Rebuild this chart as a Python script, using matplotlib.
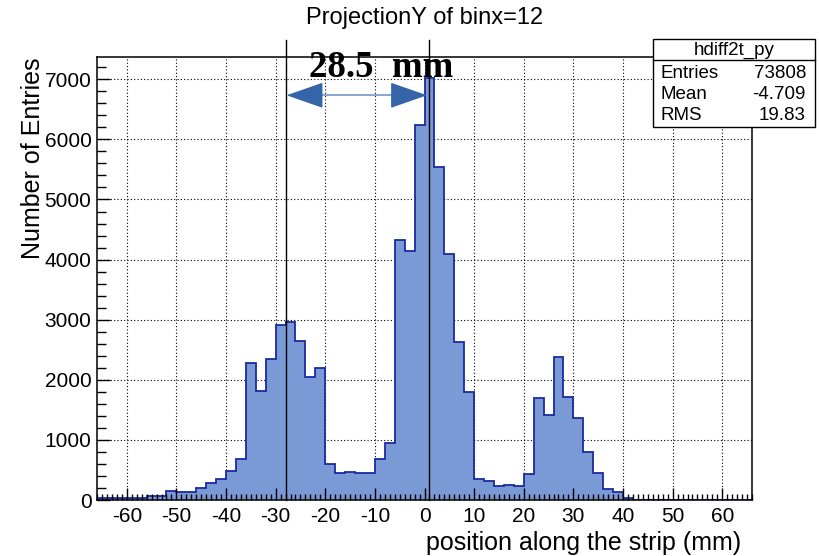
import numpy as np
import matplotlib
matplotlib.use("Agg")
import matplotlib.pyplot as plt
from matplotlib.ticker import MultipleLocator
from matplotlib.patches import Rectangle
from matplotlib.lines import Line2D

plt.rcParams['font.family'] = ['Liberation Sans', 'DejaVu Sans']
plt.rcParams['axes.unicode_minus'] = False

# histogram: bins of 2 mm from -66 to 66
edges = np.arange(-66, 67, 2)
counts = [40, 28, 28, 28, 39, 61, 61,
          155, 139, 139, 194, 277, 349, 488, 682,
          2284, 1818, 2339, 2910, 2966, 2649, 2045, 2189,
          593, 454, 471, 454, 454, 682, 942,
          4334, 4140, 6247, 7020, 5542, 4101, 2633, 1801,
          355, 318, 235, 255, 233, 431,
          1701, 1408, 2378, 1718, 1369, 804, 455, 177, 128, 39, 8,
          0, 0, 0, 0, 0, 0, 0, 0, 0, 0, 0]

title = "ProjectionY of binx=12"
xlabel = "position along the strip (mm)"
ylabel = "Number of Entries"
stat_names = ["Entries", "Mean", "RMS"]
stat_values = ["73808", "-4.709", "19.83"]
hist_name = "hdiff2t_py"

# marker lines and distance label
line_pos = [-28.0, 1.0]
arrow_y = 6734
dist_label = "28.5  mm"

fig = plt.figure(figsize=(8.2, 5.56), dpi=100)
ax = fig.add_axes([0.1183, 0.1007, 0.7988, 0.7968])

# grid under the histogram
for gx in range(-60, 61, 10):
    ax.axvline(gx, color='black', ls=(0, (1, 2)), lw=0.8, zorder=0.5)
for gy in range(1000, 7001, 1000):
    ax.axhline(gy, color='black', ls=(0, (1, 2)), lw=0.8, zorder=0.5)

ax.stairs(counts, edges, fill=True, color='#7a9ad6', zorder=1)
ax.stairs(counts, edges, color='#1c2aa0', lw=1.3, zorder=1.1)

ax.set_xlim(-66, 66)
ax.set_ylim(0, 1.05 * max(counts))

ax.xaxis.set_major_locator(MultipleLocator(10))
ax.xaxis.set_minor_locator(MultipleLocator(1))
ax.yaxis.set_major_locator(MultipleLocator(1000))
ax.yaxis.set_minor_locator(MultipleLocator(200))
ax.tick_params(axis='both', which='both', direction='in', top=False, right=False,
               labelsize=15, width=1.0)
ax.tick_params(axis='x', which='major', length=8.6, pad=5)
ax.tick_params(axis='x', which='minor', length=4.3)
ax.tick_params(axis='y', which='major', length=9.3, pad=4)
ax.tick_params(axis='y', which='minor', length=6.5)
for s in ax.spines.values():
    s.set_linewidth(1.1)

ax.text(0.983, -0.07, xlabel, transform=ax.transAxes, ha='right', va='top', fontsize=18)
ax.text(-0.098, 0.998, ylabel, transform=ax.transAxes, rotation=90,
        ha='center', va='top', fontsize=18)
fig.text(0.518, 0.968, title, ha='center', va='center', fontsize=17)

# vertical marker lines, going a bit above the frame
for lx in line_pos:
    ax.plot([lx, lx], [0, 7650], color='black', lw=1.0, clip_on=False, zorder=3)

# double arrow: light shaft, dark heads
tip_l, tip_r = line_pos[0] + 0.2, line_pos[1] - 0.5
ax.plot([tip_l + 6, tip_r - 6], [arrow_y, arrow_y], color='#8aa8d0', lw=1.5, zorder=3)
head = dict(arrowstyle='-|>,head_length=23.8,head_width=8.3', color='#3565a8',
            shrinkA=0, shrinkB=0, mutation_scale=1)
ax.annotate('', xy=(tip_l, arrow_y), xytext=(tip_l + 6.6, arrow_y), arrowprops=head, zorder=4)
ax.annotate('', xy=(tip_r, arrow_y), xytext=(tip_r - 6.6, arrow_y), arrowprops=head, zorder=4)
ax.text(-23.3, 7034, dist_label, ha='left', va='baseline', fontsize=26.5,
        family='Liberation Serif', weight='bold', zorder=4)

# stats box
bx0, bx1 = 653 / 820, 815 / 820
by_top, by_bot, by_head = 1 - 39 / 556, 1 - 127 / 556, 1 - 60 / 556
fig.add_artist(Rectangle((bx0, by_bot), bx1 - bx0, by_top - by_bot, transform=fig.transFigure,
                         facecolor='white', edgecolor='black', lw=1.0, zorder=5))
fig.add_artist(Line2D([bx0, bx1], [by_head, by_head], transform=fig.transFigure,
                      color='black', lw=1.0, zorder=6))
fig.text((bx0 + bx1) / 2, 1 - 50 / 556, hist_name, ha='center', va='center', fontsize=13.5, zorder=6)
for i, (name, val) in enumerate(zip(stat_names, stat_values)):
    yy = 1 - (73 + 21.5 * i) / 556
    fig.text(661 / 820, yy, name, ha='left', va='center', fontsize=13.5, zorder=6)
    fig.text(806 / 820, yy, val, ha='right', va='center', fontsize=13.5, zorder=6)

fig.savefig("out.png", dpi=100)
